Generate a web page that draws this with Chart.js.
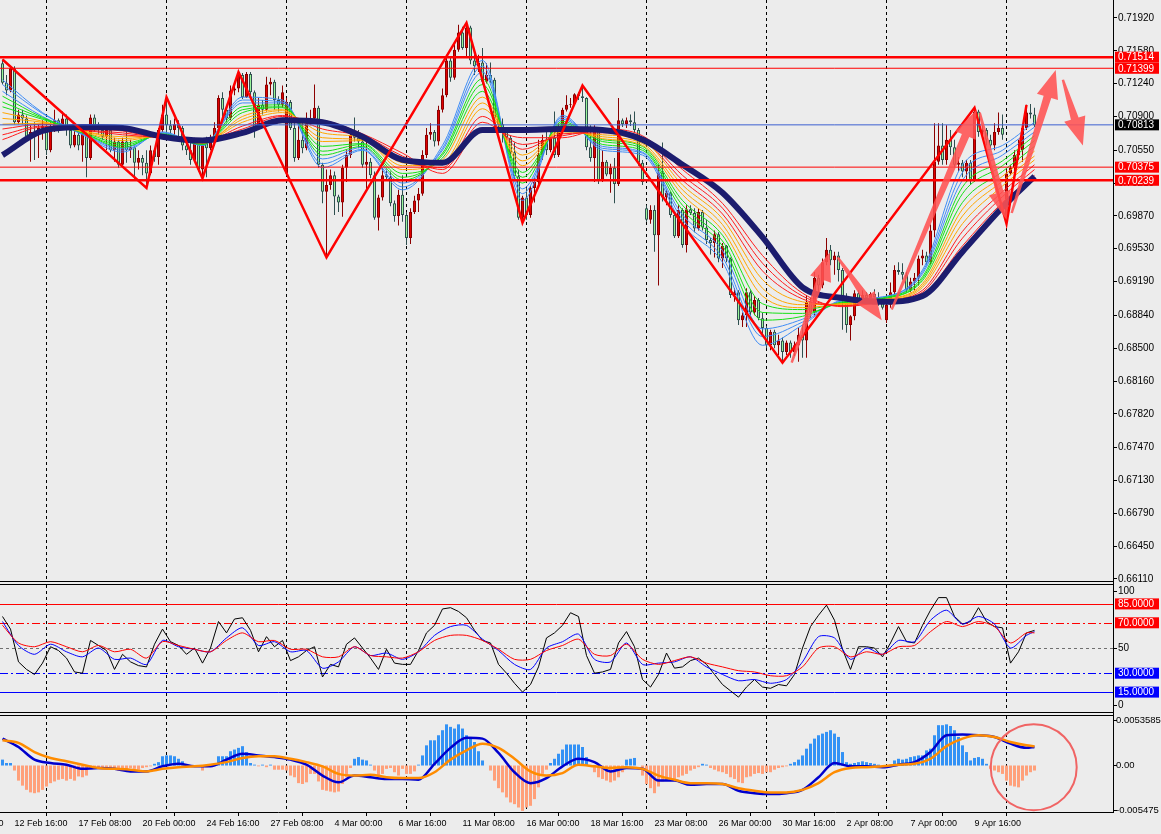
<!DOCTYPE html>
<html>
<head>
<meta charset="utf-8">
<script src="https://cdn.jsdelivr.net/npm/chart.js@4.4.1/dist/chart.umd.min.js"></script>
<style>
  html, body { margin: 0; padding: 0; background: #ececec; }
  #wrap { position: relative; width: 1161px; height: 834px; overflow: hidden; }
  #wrap canvas { position: absolute; left: 0; top: 0; }
</style>
</head>
<body>
<div id="wrap">
  <canvas id="macdChart" width="1161" height="834"></canvas>
  <canvas id="oscChart" width="1161" height="834"></canvas>
  <canvas id="priceChart" width="1161" height="834"></canvas>
</div>
<script>
// ---------- candles (H4), bar index 0..258 ----------
const barO = [
.7145,.7125,.7117,.7140,.7084,.7092,.7088,.7069,.7074,.7071,
.7078,.7080,.7055,.7078,.7086,.7081,.7088,.7076,.7060,.7071,
.7060,.7073,.7047,.7089,.7078,.7076,.7069,.7076,.7055,.7064,
.7040,.7064,.7055,.7058,.7042,.7047,.7042,.7031,.7055,.7048,
.7076,.7092,.7081,.7076,.7082,.7078,.7060,.7055,.7045,.7064,
.7035,.7064,.7057,.7066,.7078,.7109,.7097,.7088,.7117,.7119,
.7133,.7110,.7134,.7115,.7078,.7102,.7097,.7123,.7126,.7107,
.7102,.7031,.7105,.7078,.7047,.7066,.7057,.7084,.7088,.7099,
.7040,.7012,.7019,.7029,.7007,.7001,.7037,.7050,.7071,.7068,
.7064,.7040,.7043,.7029,.6985,.7006,.7029,.7027,.7000,.6987,
.7009,.6988,.6964,.6991,.7003,.7010,.7050,.7071,.7074,.7064,
.7097,.7112,.7148,.7130,.7159,.7177,.7161,.7182,.7148,.7142,
.7146,.7126,.7133,.7128,.7088,.7082,.7076,.7068,.7053,.7028,
.6985,.7006,.6988,.7016,.7022,.7050,.7066,.7055,.7068,.7050,
.7078,.7097,.7102,.7103,.7113,.7111,.7109,.7058,.7047,.7078,
.7024,.7043,.7030,.7037,.7020,.7086,.7082,.7086,.7084,.7076,
.7042,.6995,.6983,.6993,.6967,.7032,.7006,.7011,.6988,.6966,
.6993,.6957,.6994,.6990,.6974,.6991,.6975,.6962,.6959,.6968,
.6943,.6956,.6943,.6905,.6908,.6879,.6884,.6908,.6887,.6900,
.6881,.6871,.6853,.6867,.6853,.6858,.6846,.6856,.6846,.6853,
.6864,.6858,.6898,.6887,.6923,.6915,.6939,.6952,.6941,.6946,
.6931,.6900,.6874,.6883,.6907,.6900,.6905,.6902,.6906,.6903,
.6897,.6879,.6895,.6908,.6931,.6929,.6926,.6910,.6919,.6923,
.6943,.6946,.6939,.6972,.7043,.7060,.7045,.7066,.7058,.7040,
.7042,.7033,.7042,.7024,.7095,.7074,.7076,.7066,.7060,.7074,
.7078,.6981,.7031,.7037,.7050,.7055,.7078,.7094,.7092
];
const barH = [
.7149,.7133,.7142,.7142,.7097,.7097,.7091,.7081,.7084,.7082,
.7086,.7088,.7084,.7097,.7088,.7095,.7092,.7078,.7076,.7074,
.7076,.7074,.7092,.7092,.7084,.7080,.7081,.7078,.7068,.7066,
.7068,.7079,.7066,.7060,.7055,.7050,.7055,.7060,.7057,.7078,
.7102,.7110,.7086,.7088,.7086,.7080,.7066,.7063,.7068,.7066,
.7066,.7069,.7071,.7084,.7112,.7115,.7099,.7122,.7125,.7136,
.7135,.7136,.7136,.7117,.7109,.7107,.7131,.7130,.7128,.7111,
.7122,.7109,.7107,.7083,.7081,.7084,.7094,.7097,.7123,.7101,
.7042,.7035,.7035,.7033,.7009,.7040,.7055,.7076,.7089,.7076,
.7068,.7069,.7047,.7033,.7009,.7037,.7035,.7033,.7003,.7014,
.7029,.6991,.6995,.7008,.7016,.7055,.7078,.7083,.7076,.7101,
.7119,.7154,.7151,.7167,.7185,.7183,.7187,.7184,.7154,.7154,
.7161,.7145,.7146,.7130,.7092,.7088,.7078,.7070,.7063,.7035,
.7008,.7016,.7018,.7026,.7066,.7071,.7074,.7074,.7095,.7083,
.7099,.7112,.7109,.7114,.7115,.7122,.7110,.7081,.7081,.7079,
.7055,.7045,.7041,.7047,.7109,.7088,.7089,.7092,.7095,.7078,
.7045,.6998,.6998,.6998,.7040,.7063,.7014,.7012,.6991,.6998,
.6995,.6998,.6998,.6995,.6995,.6993,.6983,.6964,.6972,.6970,
.6959,.6957,.6944,.6912,.6910,.6887,.6912,.6910,.6904,.6902,
.6887,.6873,.6869,.6869,.6864,.6861,.6858,.6858,.6857,.6871,
.6874,.6905,.6902,.6929,.6926,.6943,.6964,.6957,.6950,.6950,
.6933,.6907,.6884,.6910,.6910,.6910,.6908,.6908,.6911,.6908,
.6902,.6900,.6918,.6936,.6939,.6938,.6929,.6923,.6928,.6946,
.6952,.6950,.6978,.7083,.7083,.7083,.7081,.7076,.7066,.7048,
.7045,.7045,.7045,.7099,.7097,.7081,.7078,.7071,.7083,.7094,
.7092,.7035,.7040,.7055,.7066,.7081,.7102,.7103,.7099
];
const barL = [
.7123,.7112,.7115,.7082,.7082,.7082,.7066,.7043,.7045,.7047,
.7066,.7050,.7053,.7074,.7073,.7076,.7070,.7057,.7058,.7055,
.7043,.7027,.7045,.7074,.7071,.7066,.7055,.7053,.7043,.7037,
.7039,.7042,.7047,.7024,.7035,.7029,.7016,.7029,.7043,.7040,
.7074,.7066,.7069,.7071,.7066,.7055,.7050,.7040,.7043,.7033,
.7026,.7027,.7055,.7060,.7076,.7088,.7084,.7086,.7112,.7115,
.7108,.7109,.7110,.7068,.7076,.7092,.7095,.7112,.7097,.7095,
.7099,.7029,.7076,.7043,.7045,.7052,.7055,.7081,.7086,.7037,
.7000,.6944,.7014,.6988,.6991,.6986,.7022,.7047,.7064,.7057,
.7037,.7014,.7026,.6983,.6972,.7003,.7024,.6997,.6981,.6977,
.6981,.6957,.6958,.6989,.6991,.7008,.7047,.7066,.7059,.7060,
.7094,.7110,.7126,.7128,.7157,.7159,.7151,.7144,.7133,.7136,
.7123,.7124,.7125,.7073,.7076,.7063,.7060,.7047,.7024,.6983,
.6980,.6983,.6985,.7001,.7019,.7045,.7050,.7053,.7047,.7048,
.7072,.7095,.7099,.7102,.7107,.7105,.7055,.7043,.7022,.7020,
.7022,.7028,.7011,.7000,.7018,.7079,.7078,.7080,.7073,.7039,
.7019,.6981,.6979,.6950,.6915,.7002,.6998,.6985,.6964,.6964,
.6954,.6949,.6988,.6970,.6972,.6972,.6958,.6947,.6944,.6939,
.6933,.6939,.6902,.6898,.6874,.6872,.6872,.6883,.6884,.6879,
.6864,.6850,.6848,.6850,.6843,.6835,.6843,.6840,.6842,.6836,
.6840,.6840,.6881,.6884,.6905,.6912,.6936,.6936,.6926,.6919,
.6869,.6866,.6858,.6879,.6895,.6898,.6896,.6898,.6900,.6894,
.6890,.6876,.6892,.6905,.6926,.6921,.6908,.6908,.6910,.6915,
.6936,.6936,.6937,.6965,.7040,.7040,.7040,.7050,.7037,.7033,
.7027,.7022,.7019,.7022,.7069,.7066,.7060,.7057,.7055,.7071,
.7066,.6979,.7029,.7029,.7045,.7043,.7076,.7088,.7079
];
const barC = [
.7125,.7117,.7140,.7084,.7092,.7088,.7069,.7074,.7071,.7078,
.7080,.7055,.7078,.7086,.7081,.7088,.7076,.7060,.7071,.7060,
.7073,.7047,.7089,.7078,.7076,.7069,.7076,.7055,.7064,.7040,
.7064,.7055,.7058,.7042,.7047,.7042,.7031,.7055,.7048,.7076,
.7092,.7081,.7076,.7082,.7078,.7060,.7055,.7045,.7064,.7035,
.7064,.7057,.7066,.7078,.7109,.7097,.7088,.7117,.7119,.7133,
.7110,.7134,.7115,.7078,.7102,.7097,.7123,.7126,.7107,.7102,
.7115,.7105,.7078,.7047,.7066,.7057,.7084,.7088,.7099,.7040,
.7012,.7019,.7029,.7007,.7001,.7037,.7050,.7071,.7068,.7064,
.7040,.7043,.7029,.6985,.7006,.7029,.7027,.7000,.6987,.7009,
.6988,.6964,.6991,.7003,.7010,.7050,.7071,.7074,.7064,.7097,
.7112,.7148,.7130,.7159,.7177,.7161,.7182,.7148,.7142,.7146,
.7126,.7133,.7128,.7088,.7082,.7076,.7068,.7053,.7028,.6985,
.7006,.6988,.7016,.7022,.7050,.7066,.7055,.7068,.7050,.7078,
.7097,.7102,.7103,.7113,.7111,.7109,.7058,.7047,.7078,.7024,
.7043,.7030,.7037,.7020,.7086,.7082,.7086,.7084,.7076,.7042,
.7022,.6983,.6993,.6967,.7032,.7006,.7011,.6988,.6966,.6993,
.6957,.6994,.6990,.6974,.6991,.6975,.6962,.6959,.6968,.6943,
.6956,.6943,.6905,.6908,.6879,.6884,.6908,.6887,.6900,.6881,
.6871,.6853,.6867,.6853,.6858,.6846,.6856,.6846,.6853,.6864,
.6858,.6898,.6887,.6923,.6915,.6939,.6952,.6941,.6946,.6931,
.6900,.6874,.6883,.6907,.6900,.6905,.6902,.6906,.6903,.6897,
.6892,.6895,.6908,.6931,.6929,.6926,.6910,.6919,.6923,.6943,
.6946,.6939,.6972,.7043,.7060,.7045,.7066,.7058,.7040,.7042,
.7033,.7042,.7024,.7095,.7074,.7076,.7066,.7060,.7074,.7078,
.7071,.7031,.7037,.7050,.7055,.7078,.7094,.7092,.7081
];

// ---------- moving average ribbon, read every 10 bars ----------
const maKnots = [0,10,20,30,40,50,60,70,80,90,100,110,120,130,140,150,160,170,180,190,200,210,220,230,240,250,258];
const maNavy    = [.7050,.7075,.7079,.7078,.7069,.7065,.7073,.7086,.7084,.7069,.7045,.7042,.7076,.7076,.7077,.7076,.7066,.7040,.7011,.6965,.6913,.6902,.6898,.6904,.6950,.6996,.7028];
const maBlue1   = [.7128,.7094,.7071,.7053,.7074,.7060,.7110,.7107,.7037,.7055,.7014,.7060,.7148,.7003,.7091,.7055,.7050,.6978,.6939,.6853,.6874,.6900,.6903,.6931,.7040,.7060,.7084];
const maBlue2   = [.7123,.7093,.7072,.7055,.7073,.7060,.7107,.7105,.7041,.7056,.7017,.7057,.7142,.7010,.7089,.7057,.7052,.6983,.6944,.6862,.6877,.6899,.6903,.6929,.7032,.7055,.7079];
const maBlue3   = [.7116,.7090,.7072,.7057,.7073,.7061,.7104,.7104,.7046,.7058,.7021,.7055,.7136,.7015,.7087,.7059,.7053,.6988,.6951,.6870,.6880,.6899,.6902,.6927,.7024,.7050,.7074];
const maGreen1  = [.7111,.7089,.7073,.7058,.7072,.7061,.7100,.7102,.7050,.7059,.7024,.7052,.7129,.7021,.7085,.7061,.7055,.6993,.6956,.6879,.6883,.6898,.6902,.6924,.7017,.7044,.7070];
const maGreen2  = [.7105,.7088,.7073,.7060,.7071,.7061,.7097,.7100,.7054,.7061,.7027,.7050,.7123,.7027,.7083,.7064,.7057,.6998,.6961,.6887,.6886,.6897,.6901,.6922,.7010,.7039,.7065];
const maGreen3  = [.7100,.7087,.7074,.7062,.7071,.7062,.7094,.7099,.7059,.7062,.7031,.7047,.7116,.7032,.7081,.7066,.7059,.7003,.6967,.6896,.6890,.6897,.6901,.6920,.7001,.7033,.7059];
const maOrange1 = [.7094,.7085,.7074,.7065,.7070,.7062,.7090,.7097,.7064,.7065,.7035,.7045,.7110,.7039,.7078,.7067,.7060,.7009,.6972,.6904,.6892,.6896,.6900,.6917,.6994,.7028,.7054];
const maOrange2 = [.7088,.7084,.7075,.7067,.7070,.7064,.7087,.7096,.7068,.7066,.7039,.7042,.7104,.7044,.7076,.7069,.7062,.7014,.6978,.6912,.6895,.6896,.6900,.6915,.6987,.7023,.7049];
const maOrange3 = [.7082,.7083,.7075,.7069,.7069,.7064,.7084,.7094,.7073,.7068,.7042,.7040,.7098,.7050,.7074,.7071,.7065,.7019,.6984,.6921,.6898,.6895,.6899,.6913,.6979,.7018,.7045];
const maRed1    = [.7077,.7082,.7076,.7071,.7068,.7064,.7080,.7091,.7077,.7069,.7045,.7037,.7090,.7056,.7072,.7073,.7066,.7024,.6989,.6930,.6901,.6894,.6899,.6910,.6971,.7012,.7040];
const maRed2    = [.7071,.7080,.7076,.7073,.7068,.7065,.7077,.7090,.7082,.7071,.7049,.7035,.7084,.7061,.7070,.7075,.7068,.7029,.6995,.6938,.6904,.6894,.6898,.6908,.6964,.7007,.7035];
const maRed3    = [.7066,.7079,.7077,.7075,.7067,.7065,.7074,.7088,.7086,.7072,.7052,.7031,.7078,.7068,.7068,.7077,.7070,.7035,.7000,.6946,.6907,.6893,.6898,.6906,.6956,.7001,.7029];

// zigzag turning points
const zzBars   = [0, 36, 41, 50, 59, 81, 116, 130, 145, 195, 243, 251, 256];
const zzPrices = [.7149, .7016, .7110, .7026, .7136, .6944, .7187, .6980, .7122, .6835, .7099, .6979, .7102];

// hand drawn arrows: [bar, price] of tail and tip
const arrowTail = [[197.3,.6835],[208.8,.6944],[222.3,.6890],[244.3,.7094],[252.3,.6990],[265.1,.7128]];
const arrowTip  = [[206.8,.6949],[219.8,.6879],[243.5,.7097],[251.0,.6983],[263.3,.7138],[270.1,.7060]];

// horizontal levels
const levelPrices = [0.71514, 0.71399, 0.70813, 0.70375, 0.70239];
const levelKinds  = ['thick', 'thin', 'bid', 'thin', 'thick'];

// axes
const priceTicks = [0.71920,0.71580,0.71240,0.70900,0.70550,0.70210,0.69870,0.69530,0.69190,0.68840,0.68500,0.68160,0.67820,0.67470,0.67130,0.66790,0.66450,0.66110];
const timeLabels = ['10 Feb 00:00','12 Feb 16:00','17 Feb 08:00','20 Feb 00:00','24 Feb 16:00','27 Feb 08:00','4 Mar 00:00','6 Mar 16:00','11 Mar 08:00','16 Mar 00:00','18 Mar 16:00','23 Mar 08:00','26 Mar 00:00','30 Mar 16:00','2 Apr 08:00','7 Apr 00:00','9 Apr 16:00'];
const timeLabelBars = [-13,3,19,35,51,67,83,99,115,131,147,163,179,195,211,227,243];
const gridBars = [11, 41, 71, 101, 131, 161, 191, 221, 251];

// ---------- oscillator panel ----------
const oscBlackKnots = [
0,2,4,6,8,10,12,14,16,18,20,22,24,26,28,30,32,34,36,38,
40,42,44,46,48,50,52,54,56,58,60,62,64,66,68,70,72,74,76,78,
80,82,84,86,88,90,92,94,96,98,100,102,104,106,108,110,112,114,116,118,
120,122,124,126,128,130,132,134,136,138,140,142,144,146,148,150,152,154,156,158,
160,162,164,166,168,170,172,174,176,178,180,182,184,186,188,190,192,194,196,198,
200,202,204,206,208,210,212,214,216,218,220,222,224,226,228,230,232,234,236,238,
240,242,244,246,248,250,252,254,256,258];
const oscBlack = [
75,65,39,33,29,38,51,48,42,31, 30,56,52,48,33,45,39,36,35,53,
65,55,52,45,50,38,50,71,62,73, 74,64,47,59,51,56,40,43,48,51,
27,37,35,53,58,50,42,33,49,38, 37,37,48,62,68,81,82,79,74,64,
56,54,37,30,22,15,21,35,58,62, 68,78,75,44,30,31,33,54,63,51,
25,19,29,46,34,35,40,42,37,29, 21,16,11,19,25,19,18,21,20,29,
50,67,76,84,72,49,33,51,51,50, 43,54,67,55,54,68,80,90,90,75,
69,71,82,71,67,66,38,47,62,64];
const oscKnots = [0,4,8,12,16,20,24,28,32,36,40,44,48,52,56,60,64,68,72,76,80,84,88,92,96,100,104,108,112,116,120,124,128,132,136,140,144,148,152,156,160,164,168,172,176,180,184,188,192,196,200,204,208,212,216,220,224,228,232,236,240,244,248,252,256,258];
const oscBlue  = [71,52,45,53,47,43,50,41,42,37, 56,51,49,47,58,66,52,55,47,48, 34,39,51,44,46,41,47,60,67,68, 57,48,37,33,50,55,61,41,39,54, 37,38,39,43,35,29,24,25,22,25, 39,59,58,41,50,45,56,55,72,80, 69,75,69,50,60, 63];
const oscRed   = [68,54,51,55,51,47,52,47,49,42, 55,52,49,47,56,62,55,56,49,49, 43,43,51,44,43,42,47,56,60,60, 56,49,41,41,48,52,57,45,44,53, 41,37,40,43,38,35,32,31,28,28, 35,50,51,43,47,45,51,52,63,71, 67,71,67,54,62, 62];
const oscLevels = [85, 70, 50, 30, 15];

// ---------- MACD panel ----------
const macdHist = [
.0007,.0003,.0003,-.0006,-.0018,-.0024,-.0029,-.0032,-.0033,-.0032,
-.0029,-.0025,-.0021,-.0019,-.0017,-.0016,-.0018,-.0016,-.0018,-.0013,
-.0014,-.0012,-.0004,-.0003,-.0003,-.0004,-.0003,-.0005,-.0004,-.0006,
-.0004,-.0005,-.0003,-.0004,-.0005,-.0003,-.0002,-.0001,.0002,.0004,
.0011,.0012,.0012,.0011,.0008,.0005,.0001,-.0001,0,-.0001,
-.0006,-.0002,.0001,.0002,.0011,.0011,.0011,.0017,.0019,.0021,
.0023,.0016,.0003,.0001,-.0001,.0001,-.0002,.0001,-.0005,-.0005,
-.0005,-.0006,-.0012,-.0014,-.0021,-.0022,-.0020,-.0010,-.0010,-.0019,
-.0029,-.0030,-.0031,-.0032,-.0031,-.0022,-.0014,-.0003,.0008,.0010,
.0007,.0006,.0001,-.0006,-.0012,-.0010,-.0004,-.0003,-.0008,-.0012,
-.0004,-.0010,-.0010,-.0007,.0001,.0012,.0024,.0030,.0030,.0036,
.0042,.0049,.0046,.0044,.0049,.0044,.0036,.0034,.0028,.0017,
.0006,0,-.0006,-.0018,-.0027,-.0032,-.0038,-.0044,-.0046,-.0050,
-.0054,-.0050,-.0048,-.0040,-.0026,-.0010,-.0005,.0003,.0008,.0014,
.0019,.0025,.0025,.0025,.0025,.0022,.0010,0,-.0008,-.0014,
-.0016,-.0018,-.0020,-.0018,-.0014,-.0008,.0007,.0008,.0009,0,
-.0012,-.0022,-.0027,-.0033,-.0025,-.0019,-.0018,-.0018,-.0016,-.0014,
-.0012,-.0010,-.0006,-.0004,-.0002,.0002,.0001,-.0003,-.0005,-.0007,
-.0008,-.0010,-.0014,-.0016,-.0020,-.0021,-.0014,-.0013,-.0010,-.0009,
-.0010,-.0008,-.0008,-.0005,-.0003,-.0002,-.0001,.0002,.0004,.0007,
.0012,.0020,.0026,.0032,.0036,.0038,.0040,.0042,.0038,.0034,
.0016,.0004,.0002,.0003,.0004,.0005,.0004,.0003,.0002,.0001,
0,-.0001,.0001,.0006,.0008,.0007,.0008,.0010,.0011,.0012,
.0012,.0018,.0020,.0036,.0048,.0048,.0049,.0047,.0042,.0034,
.0024,.0016,.0006,.0009,.0010,.0008,.0002,-.0004,-.0006,-.0008,
-.0010,-.0018,-.0024,-.0025,-.0026,-.0018,-.0012,-.0008,-.0006
];
const macdMain = [.0032,.0022,.0007,.0003,.0001,-.0004,-.0003,-.0004,-.0007,-.0007, -.0001,.0002,-.0001,-.0001,.0007,.0014,.0012,.0010,.0007,.0001, -.0012,-.0020,-.0012,-.0014,-.0016,-.0016,-.0017,.0002,.0021,.0033, .0032,.0015,-.0008,-.0021,-.0015,-.0001,.0008,.0004,-.0007,-.0003, -.0004,-.0018,-.0018,-.0023,-.0022,-.0022,-.0030,-.0033,-.0034,-.0033, -.0029,-.0014,.0003,-.0001,-.0001,-.0002,.0001,.0004,.0016,.0036, .0037,.0036,.0034,.0026,.0021, .0022];
const macdSignal = [.0030,.0027,.0016,.0009,.0005,.0001,-.0003,-.0004,-.0005,-.0007, -.0004,-.0002,-.0001,.0001,.0004,.0009,.0011,.0011,.0008,.0004, -.0001,-.0010,-.0012,-.0011,-.0014,-.0015,-.0015,-.0008,.0007,.0018, .0026,.0021,.0008,-.0007,-.0012,-.0009,.0001,-.0001,-.0003,-.0002, -.0004,-.0012,-.0017,-.0021,-.0021,-.0022,-.0027,-.0030,-.0032,-.0032, -.0029,-.0021,-.0008,-.0003,-.0002,-.0001,.0001,.0002,.0008,.0023, .0032,.0036,.0034,.0028,.0024, .0023];
const macdScaleLabels = [0.0053585, 0, -0.005475];
const circleCenter = [257.8, -0.0002];

// ---------- layout ----------
const X_MIN = -0.625, X_MAX = 277.625;
const PRICE_TOP = 0.72106, PRICE_BOTTOM = 0.66089;
const MACD_TOP = 0.005893, MACD_BOTTOM = -0.005536;
const AXIS_X = 1113;
const FONT_FAMILY = '"Liberation Sans", Arial, sans-serif';
const AXIS_FONT = '10px ' + FONT_FAMILY;

function knotLine(knots, vals) {
  return knots.map((k, i) => ({ x: k, y: vals[i] }));
}

function hiddenX() {
  return { type: 'linear', display: false, min: X_MIN, max: X_MAX, offset: false };
}

function plainY(min, max) {
  return {
    type: 'linear', position: 'right', min: min, max: max, beginAtZero: false,
    ticks: { display: false }, grid: { display: false }, border: { display: false },
    afterFit: s => { s.width = 1161 - AXIS_X; s.paddingTop = 0; s.paddingBottom = 0; }
  };
}

function drawGridBars(chart) {
  const { ctx, chartArea: a, scales: { x } } = chart;
  ctx.save();
  ctx.strokeStyle = '#000';
  ctx.lineWidth = 1;
  ctx.setLineDash([3, 3]);
  gridBars.forEach(b => {
    const px = Math.floor(x.getPixelForValue(b)) + 0.5;
    ctx.beginPath();
    ctx.moveTo(px, a.top);
    ctx.lineTo(px, a.bottom);
    ctx.stroke();
  });
  ctx.restore();
}

function axisText(ctx, text, y, dx) {
  ctx.fillStyle = '#000';
  ctx.fillText(text, AXIS_X + (dx || 5), y);
  ctx.fillRect(AXIS_X, Math.round(y), 4, 1);
}

function axisBox(ctx, text, y, bg) {
  ctx.fillStyle = bg;
  ctx.fillRect(AXIS_X + 2, y - 5.5, 44, 11);
  ctx.fillStyle = '#fff';
  ctx.fillText(text, AXIS_X + 5, y + 0.5);
}

function drawArrow(ctx, x1, y1, x2, y2) {
  const ang = Math.atan2(y2 - y1, x2 - x1);
  const ux = Math.cos(ang), uy = Math.sin(ang);
  const nx = -uy, ny = ux;
  const headLen = 28, headW = 11, tailW = 1.2, neckW = 4;
  const bx = x2 - ux * headLen, by = y2 - uy * headLen;
  ctx.beginPath();
  ctx.moveTo(x1 + nx * tailW, y1 + ny * tailW);
  ctx.lineTo(bx + nx * neckW, by + ny * neckW);
  ctx.lineTo(bx + nx * headW, by + ny * headW);
  ctx.lineTo(x2, y2);
  ctx.lineTo(bx - nx * headW, by - ny * headW);
  ctx.lineTo(bx - nx * neckW, by - ny * neckW);
  ctx.lineTo(x1 - nx * tailW, y1 - ny * tailW);
  ctx.closePath();
  ctx.fill();
}

// ---------- price panel ----------
const isUp = barC.map((c, i) => c >= barO[i]);
const ribbon = [
  [maRed3, '#ff1c1c'], [maRed2, '#ff1c1c'], [maRed1, '#ff1c1c'],
  [maOrange3, '#ffa500'], [maOrange2, '#ffa500'], [maOrange1, '#ffa500'],
  [maGreen3, '#16e016'], [maGreen2, '#16e016'], [maGreen1, '#16e016'],
  [maBlue3, '#3f8cf5'], [maBlue2, '#3f8cf5'], [maBlue1, '#3f8cf5']
].map(([vals, color]) => ({
  type: 'line', data: knotLine(maKnots, vals), borderColor: color, borderWidth: 1,
  pointRadius: 0, cubicInterpolationMode: 'monotone', order: 5
}));

const priceDecor = {
  id: 'priceDecor',
  beforeDatasetsDraw(chart) { drawGridBars(chart); },
  afterDatasetsDraw(chart) {
    const { ctx, chartArea: a, scales: { x, y } } = chart;
    ctx.save();
    levelPrices.forEach((p, i) => {
      const py = y.getPixelForValue(p);
      const kind = levelKinds[i];
      ctx.strokeStyle = kind === 'bid' ? '#3c5fd0' : '#ff0000';
      ctx.lineWidth = kind === 'thick' ? 2.5 : 1;
      ctx.beginPath();
      ctx.moveTo(a.left, py);
      ctx.lineTo(a.right, py);
      ctx.stroke();
    });
    ctx.beginPath();
    ctx.rect(a.left, a.top, a.right - a.left, a.bottom - a.top);
    ctx.clip();
    ctx.fillStyle = 'rgba(255, 82, 82, 0.88)';
    arrowTail.forEach((t, i) => {
      const h = arrowTip[i];
      drawArrow(ctx, x.getPixelForValue(t[0]), y.getPixelForValue(t[1]),
                x.getPixelForValue(h[0]), y.getPixelForValue(h[1]));
    });
    ctx.restore();
  },
  afterDraw(chart) {
    const { ctx, scales: { y } } = chart;
    ctx.save();
    ctx.font = AXIS_FONT;
    ctx.textBaseline = 'middle';
    levelPrices.forEach((p, i) => {
      axisBox(ctx, p.toFixed(5), y.getPixelForValue(p), levelKinds[i] === 'bid' ? '#000' : '#ff0000');
    });
    ctx.restore();
  }
};

new Chart(document.getElementById('priceChart'), {
  type: 'bar',
  data: {
    datasets: [
      { type: 'line', data: knotLine(zzBars, zzPrices), borderColor: '#ff0000', borderWidth: 2.5,
        pointRadius: 0, tension: 0, order: 1 },
      { type: 'line', data: knotLine(maKnots, maNavy), borderColor: '#1c1c6e', borderWidth: 6,
        pointRadius: 0, cubicInterpolationMode: 'monotone', order: 3 },
      ...ribbon,
      { type: 'bar', data: barO.map((o, i) => ({ x: i, y: [o, barC[i]] })),
        backgroundColor: isUp.map(u => u ? '#e00000' : '#9af59a'),
        borderColor: isUp.map(u => u ? '#8b0000' : '#2f4f4f'),
        borderWidth: 1, borderSkipped: false, barThickness: 3, grouped: false, inflateAmount: 0, order: 10 },
      { type: 'bar', data: barH.map((h, i) => ({ x: i, y: [barL[i], h] })),
        backgroundColor: isUp.map(u => u ? '#8b0000' : '#2f4f4f'),
        borderWidth: 0, barThickness: 1, grouped: false, inflateAmount: 0, order: 11 }
    ]
  },
  options: {
    responsive: false, animation: false, devicePixelRatio: 1, events: [],
    layout: { padding: { top: 0, left: 0, right: 0, bottom: 834 - 581 } },
    plugins: { legend: { display: false }, tooltip: { enabled: false } },
    scales: {
      x: hiddenX(),
      y: {
        type: 'linear', position: 'right', min: PRICE_BOTTOM, max: PRICE_TOP, beginAtZero: false,
        afterBuildTicks: s => { s.ticks = priceTicks.map(v => ({ value: v })); },
        afterFit: s => { s.width = 1161 - AXIS_X; s.paddingTop = 0; s.paddingBottom = 0; },
        ticks: { color: '#000', padding: 1, font: { family: FONT_FAMILY, size: 10 },
                 callback: v => v.toFixed(5) },
        grid: { drawOnChartArea: false, drawTicks: true, tickLength: 4, color: '#000' },
        border: { display: false }
      }
    }
  },
  plugins: [priceDecor]
});

// ---------- oscillator panel ----------
const oscDecor = {
  id: 'oscDecor',
  beforeDatasetsDraw(chart) {
    drawGridBars(chart);
    const { ctx, chartArea: a, scales: { y } } = chart;
    const styles = {
      85: ['#ff0000', []], 70: ['#ff0000', [8, 3, 2, 3]], 50: ['#707070', [3, 3]],
      30: ['#0000ff', [8, 3, 2, 3]], 15: ['#0000ff', []]
    };
    ctx.save();
    ctx.lineWidth = 1;
    oscLevels.forEach(v => {
      const py = Math.round(y.getPixelForValue(v)) + 0.5;
      ctx.strokeStyle = styles[v][0];
      ctx.setLineDash(styles[v][1]);
      ctx.beginPath();
      ctx.moveTo(a.left, py);
      ctx.lineTo(a.right, py);
      ctx.stroke();
    });
    ctx.restore();
  },
  afterDraw(chart) {
    const { ctx, scales: { y } } = chart;
    ctx.save();
    ctx.font = AXIS_FONT;
    ctx.textBaseline = 'middle';
    axisText(ctx, '100', y.getPixelForValue(100) + 6);
    axisText(ctx, '50', y.getPixelForValue(50));
    axisText(ctx, '0', y.getPixelForValue(0) - 6);
    axisBox(ctx, '85.0000', y.getPixelForValue(85), '#ff0000');
    axisBox(ctx, '70.0000', y.getPixelForValue(70), '#ff0000');
    axisBox(ctx, '30.0000', y.getPixelForValue(30), '#0000ff');
    axisBox(ctx, '15.0000', y.getPixelForValue(15), '#0000ff');
    ctx.restore();
  }
};

new Chart(document.getElementById('oscChart'), {
  type: 'line',
  data: {
    datasets: [
      { data: knotLine(oscKnots, oscRed), borderColor: '#ff0000', borderWidth: 1, pointRadius: 0, tension: 0.25 },
      { data: knotLine(oscKnots, oscBlue), borderColor: '#0000ff', borderWidth: 1, pointRadius: 0, tension: 0.25 },
      { data: knotLine(oscBlackKnots, oscBlack), borderColor: '#000000', borderWidth: 1, pointRadius: 0, tension: 0 }
    ]
  },
  options: {
    responsive: false, animation: false, devicePixelRatio: 1, events: [],
    layout: { padding: { top: 585, left: 0, right: 0, bottom: 834 - 711 } },
    plugins: { legend: { display: false }, tooltip: { enabled: false } },
    scales: { x: hiddenX(), y: plainY(0, 100) }
  },
  plugins: [oscDecor]
});

// ---------- MACD panel (also draws panel frames) ----------
const macdDecor = {
  id: 'macdDecor',
  beforeDatasetsDraw(chart) { drawGridBars(chart); },
  afterDatasetsDraw(chart) {
    const { ctx, scales: { x, y } } = chart;
    ctx.save();
    ctx.strokeStyle = '#f06464';
    ctx.lineWidth = 2;
    ctx.beginPath();
    ctx.arc(x.getPixelForValue(circleCenter[0]), y.getPixelForValue(circleCenter[1]), 43, 0, Math.PI * 2);
    ctx.stroke();
    ctx.restore();
  },
  afterDraw(chart) {
    const { ctx, scales: { y } } = chart;
    ctx.save();
    ctx.fillStyle = '#000';
    [581, 584, 712, 715].forEach(py => ctx.fillRect(0, py, AXIS_X + 1, 1));
    ctx.fillRect(AXIS_X, 0, 1, 813);
    ctx.font = '9.5px ' + FONT_FAMILY;
    ctx.textBaseline = 'middle';
    axisText(ctx, '0.0053585', y.getPixelForValue(macdScaleLabels[0]), 3);
    axisText(ctx, '0.00', y.getPixelForValue(macdScaleLabels[1]), 3);
    axisText(ctx, '-0.005475', y.getPixelForValue(macdScaleLabels[2]) - 1, 3);
    ctx.restore();
  }
};

new Chart(document.getElementById('macdChart'), {
  type: 'bar',
  data: {
    datasets: [
      { type: 'line', data: knotLine(oscKnots, macdSignal), borderColor: '#ff8c00', borderWidth: 2.5,
        pointRadius: 0, cubicInterpolationMode: 'monotone', order: 0 },
      { type: 'line', data: knotLine(oscKnots, macdMain), borderColor: '#0000cd', borderWidth: 2.5,
        pointRadius: 0, cubicInterpolationMode: 'monotone', order: 1 },
      { type: 'bar', data: macdHist.map((v, i) => ({ x: i, y: v })),
        backgroundColor: macdHist.map(v => v >= 0 ? '#3392f5' : '#ffa07a'),
        borderWidth: 0, barThickness: 3, grouped: false, inflateAmount: 0, order: 2 }
    ]
  },
  options: {
    responsive: false, animation: false, devicePixelRatio: 1, events: [],
    layout: { padding: { top: 716, left: 0, right: 0, bottom: 0 } },
    plugins: { legend: { display: false }, tooltip: { enabled: false } },
    scales: {
      x: {
        type: 'linear', min: X_MIN, max: X_MAX, offset: false, position: 'bottom',
        afterBuildTicks: s => { s.ticks = timeLabelBars.map(v => ({ value: v })); },
        afterFit: s => { s.height = 834 - 812; s.paddingLeft = 0; s.paddingRight = 0; },
        ticks: { autoSkip: false, maxRotation: 0, minRotation: 0, align: 'start', padding: 2, color: '#000',
                 font: { family: FONT_FAMILY, size: 9 }, callback: (v, i) => timeLabels[i] },
        grid: { drawOnChartArea: false, drawTicks: true, tickLength: 4, color: '#000' },
        border: { display: true, color: '#000' }
      },
      y: plainY(MACD_BOTTOM, MACD_TOP)
    }
  },
  plugins: [macdDecor]
});
</script>
</body>
</html>
